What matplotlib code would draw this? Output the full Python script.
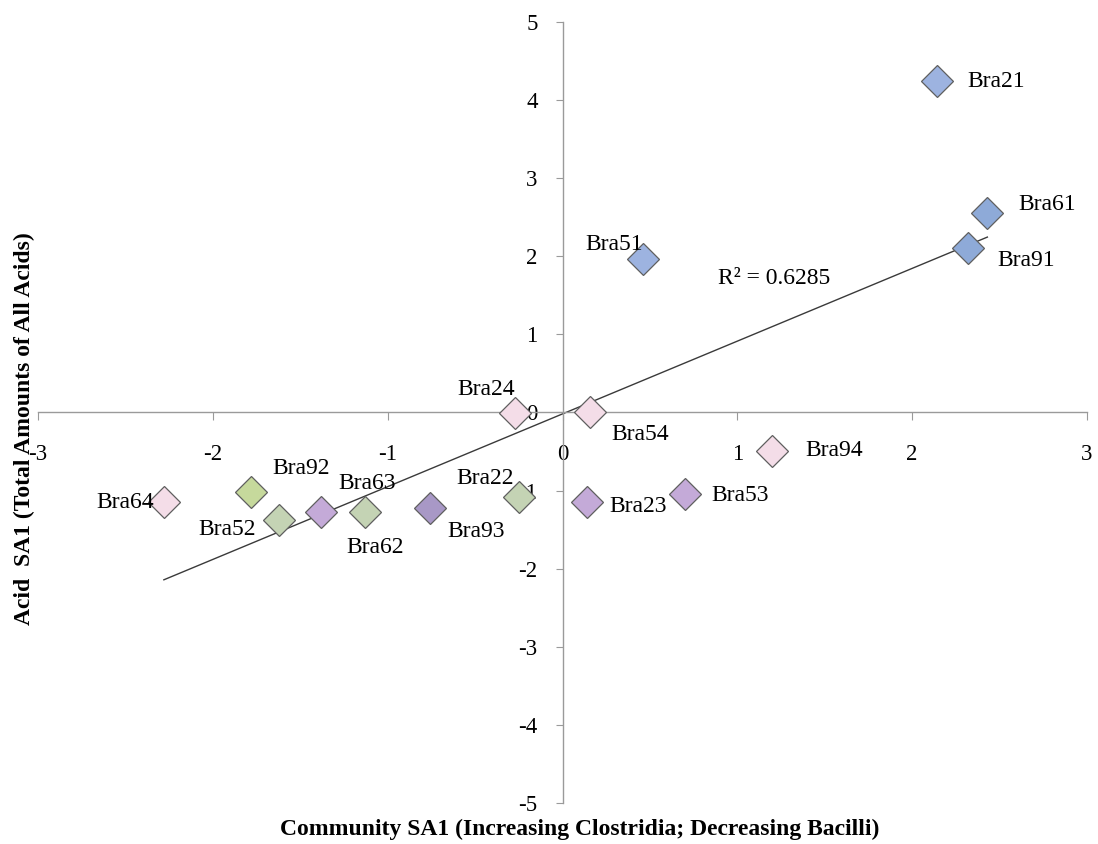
"""Scatter of community SA1 vs acid SA1 with linear trendline."""

import matplotlib.pyplot as plt
import numpy as np

samples = ["Bra21", "Bra61", "Bra91", "Bra51", "Bra24", "Bra54", "Bra94", "Bra53",
           "Bra23", "Bra22", "Bra93", "Bra62", "Bra63", "Bra52", "Bra92", "Bra64"]
community_sa1 = [2.14, 2.43, 2.32, 0.46, -0.27, 0.16, 1.20, 0.70,
                 0.14, -0.25, -0.76, -1.13, -1.38, -1.62, -1.78, -2.28]
acid_sa1 = [4.25, 2.56, 2.10, 1.96, -0.01, 0.0, -0.49, -1.04,
            -1.15, -1.08, -1.22, -1.28, -1.27, -1.38, -1.02, -1.15]
r2_text = "R² = 0.6285"

colors = {
    "Bra21": "#9DB3E0", "Bra51": "#9DB3E0", "Bra61": "#8EAAD8", "Bra91": "#8EAAD8",
    "Bra24": "#F4DDE8", "Bra54": "#F4DDE8", "Bra94": "#F4DDE8", "Bra64": "#F4DDE8",
    "Bra53": "#C4AAD8", "Bra23": "#C4AAD8", "Bra63": "#C4AAD8", "Bra93": "#A898C6",
    "Bra22": "#C4D3B4", "Bra62": "#C4D3B4", "Bra52": "#C4D3B4", "Bra92": "#C6D99C",
}
# label offsets in points (dx, dy) and horizontal alignment
label_pos = {
    "Bra21": (22, -1, "left"), "Bra61": (22, 6, "left"), "Bra91": (21, -9, "left"),
    "Bra51": (-21, 11, "center"), "Bra24": (-21, 17, "center"), "Bra54": (15, -16, "left"),
    "Bra94": (24, 0, "left"), "Bra53": (19, -1, "left"), "Bra23": (16, -3, "left"),
    "Bra22": (-24, 13, "center"), "Bra93": (13, -17, "left"), "Bra62": (7, -25, "center"),
    "Bra63": (12, 20, "left"), "Bra52": (-17, -7, "right"), "Bra92": (15, 17, "left"),
    "Bra64": (-7, 0, "right"),
}

plt.rcParams["font.family"] = ["Liberation Serif", "DejaVu Serif"]
plt.rcParams["axes.unicode_minus"] = False

fig = plt.figure(figsize=(10.98, 8.44), dpi=100)
ax = fig.add_axes([0.0346, 0.0486, 0.9554, 0.9254])

ax.set_xlim(-3, 3)
ax.set_ylim(-5, 5)
ax.spines["left"].set_position(("data", 0))
ax.spines["bottom"].set_position(("data", 0))
ax.spines["right"].set_visible(False)
ax.spines["top"].set_visible(False)
for side in ("left", "bottom"):
    ax.spines[side].set_color("#9a9a9a")
    ax.spines[side].set_linewidth(1.0)
ax.set_xticks(range(-3, 4))
ax.set_yticks(range(-5, 6))
ax.tick_params(axis="x", direction="out", length=6, color="#9a9a9a", pad=17, labelsize=16.5)
ax.tick_params(axis="y", direction="out", length=5, color="#9a9a9a", pad=13, labelsize=16.5)

# linear trendline
slope, intercept = np.polyfit(community_sa1, acid_sa1, 1)
xs = np.array([min(community_sa1), max(community_sa1)])
ax.plot(xs, slope * xs + intercept, color="#3a3a3a", lw=1.0, zorder=2)

for name, x, y in zip(samples, community_sa1, acid_sa1):
    ax.plot(x, y, marker="D", ms=16, mfc=colors[name], mec="#5f5f5f", mew=0.9,
            linestyle="none", zorder=3)
    dx, dy, ha = label_pos[name]
    ax.annotate(name, (x, y), xytext=(dx, dy), textcoords="offset points",
                ha=ha, va="center", fontsize=17, zorder=4)

ax.text(0.89, 1.72, r2_text, fontsize=17, ha="left", va="center")

fig.text(0.528, 0.017, "Community SA1 (Increasing Clostridia; Decreasing Bacilli)",
         ha="center", va="center", fontsize=17, fontweight="bold")
fig.text(0.022, 0.492, "Acid  SA1 (Total Amounts of All Acids)", rotation=90,
         ha="center", va="center", fontsize=17, fontweight="bold")

fig.savefig("out.png", dpi=100)
